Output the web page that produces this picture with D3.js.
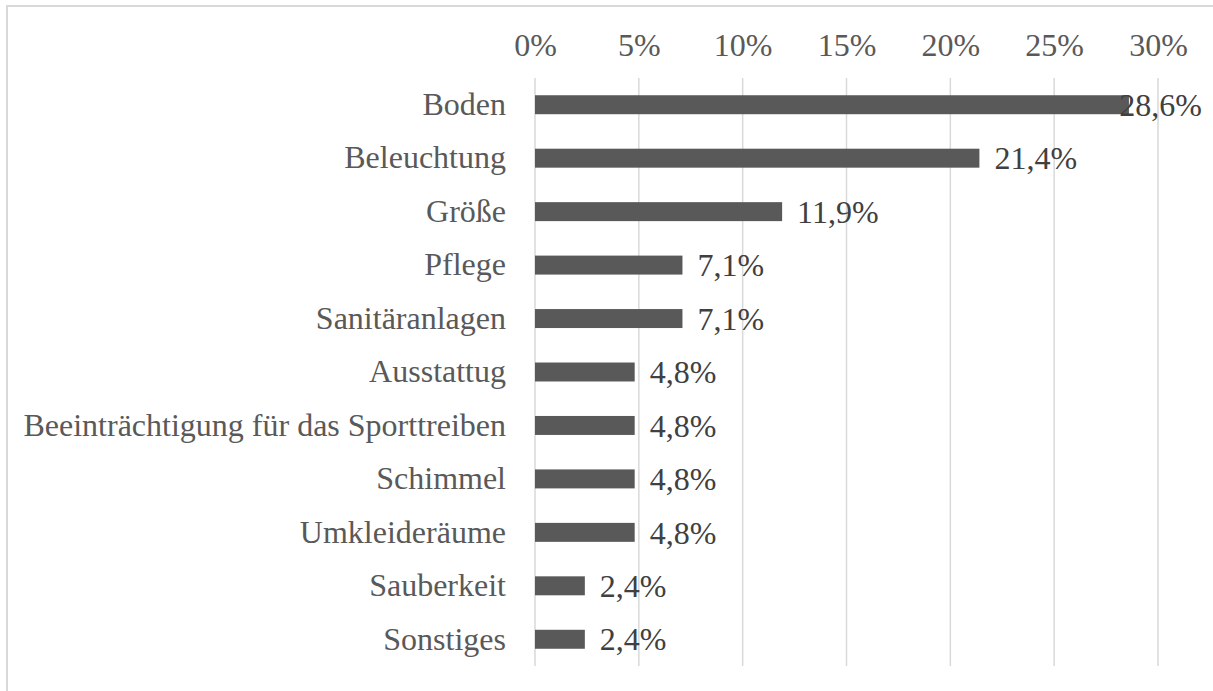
<!DOCTYPE html>
<html>
<head>
<meta charset="utf-8">
<script src="https://cdn.jsdelivr.net/npm/d3@7"></script>
<style>
  html, body { margin: 0; padding: 0; background: #fff; }
  svg { display: block; }
</style>
</head>
<body>
<svg id="chart" width="1213" height="691"></svg>
<script>
// Kategorien und Anteile (in Prozent)
const categories = [
  "Boden", "Beleuchtung", "Größe", "Pflege", "Sanitäranlagen", "Ausstattug",
  "Beeinträchtigung für das Sporttreiben", "Schimmel", "Umkleideräume",
  "Sauberkeit", "Sonstiges"
];
const values = [28.6, 21.4, 11.9, 7.1, 7.1, 4.8, 4.8, 4.8, 4.8, 2.4, 2.4];
const tickValues = [0, 5, 10, 15, 20, 25, 30];

const svg = d3.select("#chart");
const W = 1213, H = 691;
const font = "Liberation Serif, Times New Roman, serif";
const fontSize = 32;

// Rahmen des Diagrammbereichs
svg.append("rect")
  .attr("x", 7).attr("y", 6)
  .attr("width", W).attr("height", H)
  .attr("fill", "none")
  .attr("stroke", "#d9d9d9")
  .attr("stroke-width", 2);

const plot = { left: 535, right: 1158, top: 78, bottom: 666 };

const x = d3.scaleLinear().domain([0, 30]).range([plot.left, plot.right]);
const y = d3.scaleBand().domain(categories)
  .range([plot.top, plot.bottom])
  .paddingInner(0.645).paddingOuter(0.3225);

// Gitternetzlinien
svg.append("g").selectAll("line")
  .data(tickValues)
  .join("line")
  .attr("x1", d => x(d)).attr("x2", d => x(d))
  .attr("y1", plot.top).attr("y2", plot.bottom)
  .attr("stroke", "#d9d9d9")
  .attr("stroke-width", 1.5);

// Achse oben
const fmtPct = d => d + "%";
const axisTop = d3.axisTop(x).tickValues(tickValues).tickFormat(fmtPct).tickSize(0).tickPadding(0);
const gx = svg.append("g").attr("transform", `translate(0, 56)`).call(axisTop);
gx.select(".domain").remove();
gx.selectAll("text")
  .attr("font-family", font)
  .attr("font-size", fontSize)
  .attr("fill", "#595959")
  .attr("dy", 0);

// Kategorienachse links
const axisLeft = d3.axisLeft(y).tickSize(0).tickPadding(29);
const gy = svg.append("g").attr("transform", `translate(${plot.left}, 0)`).call(axisLeft);
gy.select(".domain").remove();
gy.selectAll("text")
  .attr("font-family", font)
  .attr("font-size", fontSize)
  .attr("fill", "#595959");

// Balken
svg.append("g").selectAll("rect")
  .data(values)
  .join("rect")
  .attr("x", x(0))
  .attr("y", (d, i) => y(categories[i]))
  .attr("width", d => x(d) - x(0))
  .attr("height", y.bandwidth())
  .attr("fill", "#595959");

// Datenbeschriftungen
const fmtLabel = d => d.toFixed(1).replace(".", ",") + "%";
const labelLimit = x(30) + 44;
svg.append("g").selectAll("text")
  .data(values)
  .join("text")
  .attr("y", (d, i) => y(categories[i]) + y.bandwidth() / 2)
  .attr("dy", "0.35em")
  .attr("font-family", font)
  .attr("font-size", fontSize)
  .attr("fill", "#404040")
  .text(fmtLabel)
  .attr("x", function(d) {
    const w = this.getComputedTextLength();
    return Math.min(x(d) + 15, labelLimit - w);
  });
</script>
</body>
</html>
